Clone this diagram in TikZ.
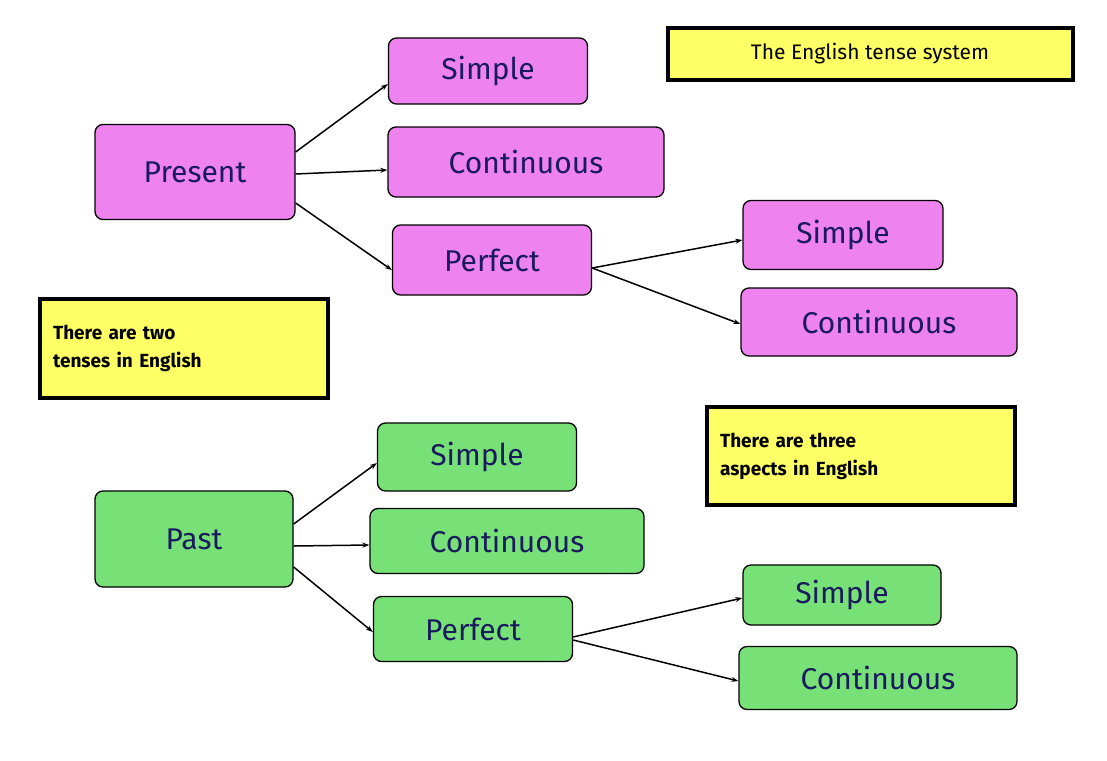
\documentclass[tikz,border=0pt]{standalone}
\usepackage{fontspec}
\setmainfont{Fira Sans}
\usetikzlibrary{arrows.meta}
\definecolor{pk}{HTML}{EE82EE}
\definecolor{gr}{HTML}{77E077}
\definecolor{yl}{HTML}{FFFF66}
\definecolor{nv}{HTML}{1A1A5E}
\begin{document}
\begin{tikzpicture}[x=1pt,y=-1pt,
 box/.style={draw=black,line width=1.3pt,rounded corners=8pt,minimum width=#1,text=nv,font=\fontsize{30}{34}\selectfont},
 pbox/.style={box=#1,fill=pk},
 gbox/.style={box=#1,fill=gr},
 ybox/.style={draw=black,line width=4pt,fill=yl,font=\bfseries\fontsize{19}{28}\selectfont,align=left},
 arr/.style={line width=1.5pt,-{Stealth[length=7pt,width=5pt]}}]
\useasboundingbox (0,0) rectangle (1107,760);
\node[pbox=200pt,minimum height=95pt] (pres) at (195,172) {Present};
\node[pbox=199pt,minimum height=66pt] (s1) at (488,71) {Simple};
\node[pbox=276pt,minimum height=70pt] (c1) at (526,162) {Continuous};
\node[pbox=199pt,minimum height=70pt] (p1) at (492,260) {Perfect};
\node[pbox=200pt,minimum height=69pt] (s2) at (843,235) {Simple};
\node[pbox=276pt,minimum height=68pt] (c2) at (879,322) {Continuous};
\node[gbox=198pt,minimum height=96pt] (past) at (194,539) {Past};
\node[gbox=199pt,minimum height=68pt] (s3) at (477,457) {Simple};
\node[gbox=274pt,minimum height=65pt] (c3) at (507,541) {Continuous};
\node[gbox=199pt,minimum height=65pt] (p3) at (473,629) {Perfect};
\node[gbox=198pt,minimum height=60pt] (s4) at (842,595) {Simple};
\node[gbox=278pt,minimum height=63pt] (c4) at (878,678) {Continuous};
\node[ybox,minimum width=405pt,minimum height=52pt,font=\fontsize{21}{24}\selectfont,text=black] (t) at (870,54) {The English tense system};
\node[ybox,minimum width=288pt,minimum height=99pt,text width=262pt] (two) at (184,348) {There are two\\tenses in English};
\node[ybox,minimum width=308pt,minimum height=98pt,text width=282pt] (three) at (861,456) {There are three\\aspects in English};
\draw[arr] ([yshift=20]pres.east) -- (s1.west |- 0,84);
\draw[arr] ([yshift=-2]pres.east) -- (c1.west |- 0,170);
\draw[arr] ([yshift=-31]pres.east) -- ([yshift=-10]p1.west);
\draw[arr] ([yshift=-8]p1.east) -- ([yshift=-5]s2.west);
\draw[arr] ([yshift=-8]p1.east) -- ([yshift=-2]c2.west);
\draw[arr] ([yshift=15]past.east) -- ([yshift=-6]s3.west);
\draw[arr] ([yshift=-7]past.east) -- ([yshift=-4]c3.west);
\draw[arr] ([yshift=-28]past.east) -- ([yshift=-3]p3.west);
\draw[arr] ([yshift=-8]p3.east) -- ([yshift=-3]s4.west);
\draw[arr] ([yshift=-11]p3.east) -- ([yshift=-3]c4.west);
\end{tikzpicture}
\end{document}
